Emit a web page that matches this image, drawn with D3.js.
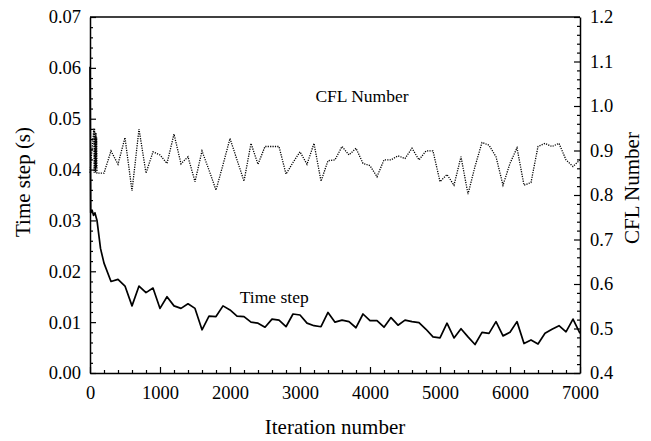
<!DOCTYPE html>
<html>
<head>
<meta charset="utf-8">
<script src="https://cdn.jsdelivr.net/npm/d3@7"></script>
<style>
  html, body { margin: 0; padding: 0; background: #fff; }
  svg { display: block; }
  text { font-family: "Liberation Serif", "DejaVu Serif", serif; fill: #000; }
</style>
</head>
<body>
<svg id="chart" width="651" height="441"></svg>
<script>
// ---- data ----
const timeStepIterations = [0, 10, 30, 50, 70, 100, 150, 200, 300, 400, 500, 600, 700, 800, 900, 1000,
  1100, 1200, 1300, 1400, 1500, 1600, 1700, 1800, 1900, 2000, 2100, 2200, 2300, 2400, 2500,
  2600, 2700, 2800, 2900, 3000, 3100, 3200, 3300, 3400, 3500, 3600, 3700, 3800, 3900, 4000,
  4100, 4200, 4300, 4400, 4500, 4600, 4700, 4800, 4900, 5000, 5100, 5200, 5300, 5400, 5500,
  5600, 5700, 5800, 5900, 6000, 6100, 6200, 6300, 6400, 6500, 6600, 6700, 6800, 6900, 7000];
const timeStepValues = [0.0602, 0.0315, 0.0320, 0.0310, 0.0315, 0.0300, 0.0245, 0.0216, 0.0180, 0.0184,
  0.0171, 0.0132, 0.0171, 0.0158, 0.0167, 0.0127, 0.0150, 0.0132, 0.0127, 0.0136, 0.0127,
  0.0085, 0.0112, 0.0111, 0.0132, 0.0124, 0.0112, 0.0111, 0.0100, 0.0098, 0.0090, 0.0106,
  0.0104, 0.0091, 0.0116, 0.0114, 0.0098, 0.0093, 0.0091, 0.0119, 0.0100, 0.0104, 0.0101,
  0.0089, 0.0116, 0.0103, 0.0103, 0.0090, 0.0109, 0.0094, 0.0104, 0.0101, 0.0099, 0.0086,
  0.0071, 0.0069, 0.0098, 0.0069, 0.0087, 0.0071, 0.0056, 0.0080, 0.0078, 0.0101, 0.0073,
  0.0080, 0.0101, 0.0058, 0.0065, 0.0057, 0.0078, 0.0086, 0.0093, 0.0081, 0.0106, 0.0078];

const cflIterations = [0, 55, 60, 65, 70, 75, 80, 85, 90, 95, 100, 200, 300, 400, 500, 600, 700, 800, 900,
  1000, 1100, 1200, 1300, 1400, 1500, 1600, 1700, 1800, 1900, 2000, 2100, 2200, 2300, 2400,
  2500, 2600, 2700, 2800, 2900, 3000, 3100, 3200, 3300, 3400, 3500, 3600, 3700, 3800, 3900,
  4000, 4100, 4200, 4300, 4400, 4500, 4600, 4700, 4800, 4900, 5000, 5100, 5200, 5300, 5400,
  5500, 5600, 5700, 5800, 5900, 6000, 6100, 6200, 6300, 6400, 6500, 6600, 6700, 6800, 6900, 7000];
const cflValues = [0.85, 0.95, 0.85, 0.95, 0.86, 0.94, 0.85, 0.94, 0.86, 0.93, 0.849, 0.849, 0.899,
  0.869, 0.929, 0.809, 0.948, 0.849, 0.897, 0.890, 0.871, 0.937, 0.870, 0.886, 0.830, 0.899,
  0.856, 0.811, 0.868, 0.927, 0.879, 0.831, 0.916, 0.869, 0.909, 0.909, 0.909, 0.847, 0.873,
  0.897, 0.869, 0.916, 0.831, 0.877, 0.879, 0.909, 0.890, 0.905, 0.871, 0.866, 0.841, 0.879,
  0.879, 0.888, 0.882, 0.905, 0.879, 0.899, 0.899, 0.830, 0.846, 0.822, 0.886, 0.802, 0.864,
  0.918, 0.912, 0.886, 0.822, 0.871, 0.906, 0.822, 0.828, 0.909, 0.916, 0.909, 0.916, 0.879,
  0.864, 0.879];

const xTicks = [0, 1000, 2000, 3000, 4000, 5000, 6000, 7000];
const leftTicks = [0.00, 0.01, 0.02, 0.03, 0.04, 0.05, 0.06, 0.07];
const rightTicks = [0.4, 0.5, 0.6, 0.7, 0.8, 0.9, 1.0, 1.1, 1.2];

const xTitle = "Iteration number";
const leftTitle = "Time step (s)";
const rightTitle = "CFL Number";
const timeStepLabel = "Time step";
const cflLabel = "CFL Number";

// ---- layout ----
const W = 651, H = 441;
const margin = { left: 90, right: 71, top: 17, bottom: 68 };
const iw = W - margin.left - margin.right;
const ih = H - margin.top - margin.bottom;

const svg = d3.select("#chart");
const g = svg.append("g").attr("transform", `translate(${margin.left},${margin.top})`);

const x = d3.scaleLinear().domain([0, 7000]).range([0, iw]);
const yL = d3.scaleLinear().domain([0, 0.07]).range([ih, 0]);
const yR = d3.scaleLinear().domain([0.4, 1.2]).range([ih, 0]);

const tickFont = "18.5px";

function styleAxis(sel) {
  sel.select(".domain").attr("stroke", "#000").attr("stroke-width", 1.5);
  sel.selectAll(".tick line").attr("stroke", "#000").attr("stroke-width", 1.2);
  sel.selectAll(".tick text").style("font-size", tickFont).style("font-family", '"Liberation Serif", serif');
}

// minor ticks
const xMinor = d3.range(0, 7001, 200).filter(v => v % 1000 !== 0);
const lMinor = d3.range(0, 36).map(i => i * 0.002).filter((v, i) => i % 5 !== 0);
const rMinor = d3.range(0, 41).map(i => 0.4 + i * 0.02).filter((v, i) => i % 5 !== 0);

g.append("g").attr("transform", `translate(0,${ih})`)
  .call(d3.axisBottom(x).tickValues(xMinor).tickSize(-3).tickFormat(""))
  .call(s => { s.select(".domain").remove(); s.selectAll("line").attr("stroke", "#000").attr("stroke-width", 1.2); });
g.append("g")
  .call(d3.axisLeft(yL).tickValues(lMinor).tickSize(-3).tickFormat(""))
  .call(s => { s.select(".domain").remove(); s.selectAll("line").attr("stroke", "#000").attr("stroke-width", 1.2); });
g.append("g").attr("transform", `translate(${iw},0)`)
  .call(d3.axisRight(yR).tickValues(rMinor).tickSize(-3).tickFormat(""))
  .call(s => { s.select(".domain").remove(); s.selectAll("line").attr("stroke", "#000").attr("stroke-width", 1.2); });

// major axes
g.append("g").attr("transform", `translate(0,${ih})`)
  .call(d3.axisBottom(x).tickValues(xTicks).tickSizeInner(-6).tickSizeOuter(0).tickPadding(13).tickFormat(d3.format("d")))
  .call(styleAxis);

g.append("g")
  .call(d3.axisLeft(yL).tickValues(leftTicks).tickSizeInner(-6).tickSizeOuter(0).tickPadding(9).tickFormat(d3.format(".2f")))
  .call(styleAxis);

g.append("g").attr("transform", `translate(${iw},0)`)
  .call(d3.axisRight(yR).tickValues(rightTicks).tickSizeInner(-6).tickSizeOuter(0).tickPadding(10).tickFormat(d3.format(".1f")))
  .call(styleAxis);

// top frame line
g.append("line").attr("x1", 0).attr("x2", iw).attr("y1", 0).attr("y2", 0)
  .attr("stroke", "#000").attr("stroke-width", 1.5);

// lines
const tsData = timeStepIterations.map((it, i) => [it, timeStepValues[i]]);
const cflData = cflIterations.map((it, i) => [it, cflValues[i]]);

g.append("path").datum(cflData)
  .attr("fill", "none").attr("stroke", "#000").attr("stroke-width", 1.3)
  .attr("stroke-dasharray", "1.2,1.2")
  .attr("d", d3.line().x(d => x(d[0])).y(d => yR(d[1])));

g.append("path").datum(tsData)
  .attr("fill", "none").attr("stroke", "#000").attr("stroke-width", 1.7)
  .attr("stroke-linejoin", "round")
  .attr("d", d3.line().x(d => x(d[0])).y(d => yL(d[1])));

// in-plot labels
g.append("text").attr("x", x(2140)).attr("y", yL(0.0137))
  .style("font-size", "17.5px").text(timeStepLabel);
g.append("text").attr("x", x(3220)).attr("y", yR(1.01))
  .style("font-size", "17.5px").text(cflLabel);

// axis titles
svg.append("text").attr("x", margin.left + iw / 2).attr("y", 434)
  .attr("text-anchor", "middle").style("font-size", "21px").text(xTitle);
svg.append("text").attr("transform", `translate(30,182) rotate(-90)`)
  .attr("text-anchor", "middle").style("font-size", "21px").text(leftTitle);
svg.append("text").attr("transform", `translate(639,188) rotate(-90)`)
  .attr("text-anchor", "middle").style("font-size", "21px").text(rightTitle);
</script>
</body>
</html>
